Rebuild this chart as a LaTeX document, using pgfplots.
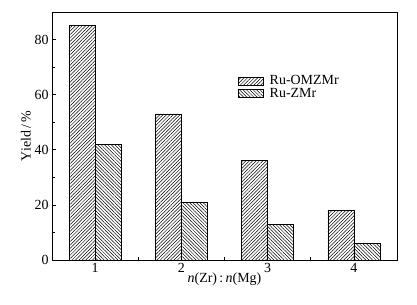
\documentclass[border=0pt]{standalone}
\usepackage{fontspec}
\setmainfont{Liberation Serif}
\usepackage{pgfplots}
\pgfplotsset{compat=1.18}
\usetikzlibrary{patterns.meta}
\begin{document}
\begin{tikzpicture}
\begin{axis}[
  scale only axis,
  width=345bp, height=248bp,
  ybar, bar width=26bp,
  xmin=0.5, xmax=4.5, ymin=0, ymax=90,
  xtick={1,2,3,4},
  minor xtick={1.5,2.5,3.5},
  ytick={0,20,40,60,80},
  minor ytick={10,30,50,70},
  tick pos=left,
  tick align=inside,
  major tick length=4bp, minor tick length=2.5bp,
  axis line style={line width=0.8pt},
  tick style={line width=0.6pt, black},
  /pgf/number format/assume math mode=true,
  tick label style={font=\fontsize{14}{14}\selectfont},
  label style={font=\fontsize{14}{14}\selectfont},
  xlabel={\textit{n}(Zr)\,:\,\textit{n}(Mg)},
  ylabel={Yield\,/\,\%},
  xlabel style={yshift=7bp},
  ylabel style={yshift=-3bp},
  legend style={at={(rel axis cs:0.53,0.76)}, anchor=north west, draw=none, fill=none,
    font=\fontsize{14}{14}\selectfont, row sep=-2bp},
  legend cell align=left,
  legend image code/.code={\draw[#1] (0bp,-4bp) rectangle (25bp,4bp); \path (29bp,0bp);},
]
\addplot[draw=black, line width=0.7pt, bar shift=-13bp,
  pattern={Lines[angle=45,distance=2.4bp,line width=0.5bp]}]
  coordinates {(1,85) (2,53) (3,36) (4,18)};
\addplot[draw=black, line width=0.7pt, bar shift=13bp,
  pattern={Lines[angle=-45,distance=2.4bp,line width=0.5bp]}]
  coordinates {(1,42) (2,21) (3,13) (4,6)};
\legend{Ru-OMZMr, Ru-ZMr}
\coordinate (ll) at (rel axis cs:0,0);
\coordinate (ur) at (rel axis cs:1,1);
\end{axis}
\pgfresetboundingbox
\path ([shift={(-52bp,-45bp)}]ll) rectangle ([shift={(20bp,12bp)}]ur);
\end{tikzpicture}
\end{document}
